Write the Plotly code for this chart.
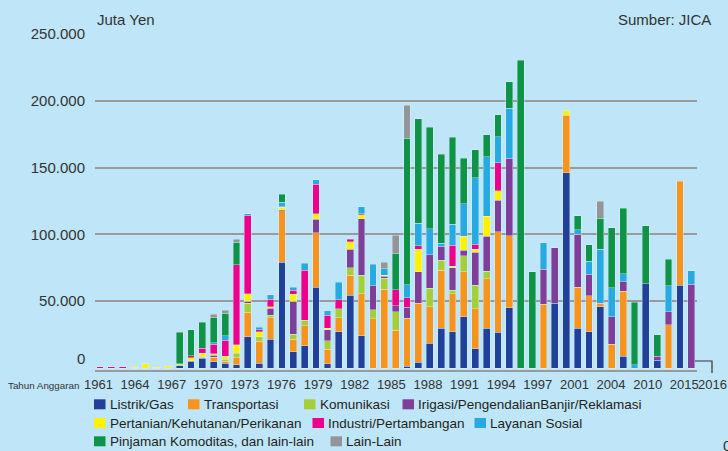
import plotly.graph_objects as go

# ---------------- data (values in Juta Yen) ----------------
years = ["1961", "1962", "1963", "1964", "1965", "1966", "1967", "1968", "1969", "1970",
         "1971", "1972", "1973", "1974", "1975", "1976", "1977", "1978", "1979", "1980",
         "1981", "1982", "1983", "1984", "1985", "1986", "1987", "1988", "1989", "1990",
         "1991", "1992", "1993", "1994", "1995", "1996", "1997", "1998", "1999", "2000",
         "2001", "2002", "2003", "2004", "2005", "2006", "2007", "2008", "2009", "2010",
         "2011", "2015", "2016"]

listrik_gas = [0, 0, 0, 0, 0, 0, 0, 1500, 5000, 7400,
               4500, 3400, 2500, 23300, 3700, 21600, 79000, 12200, 16600, 60400,
               3200, 27100, 54600, 24100, 0, 0, 0, 1200, 4200, 18600,
               29800, 27300, 38500, 14400, 29800, 26600, 45200, 0, 0, 0,
               48400, 146300, 29800, 27300, 45900, 0, 8700, 0, 63100, 5700,
               0, 62100, 0]
transportasi = [0, 0, 0, 0, 0, 0, 0, 0, 600, 700,
                3700, 1500, 5000, 18600, 16200, 15900, 38800, 9400, 14900, 40700,
                10700, 10400, 14700, 31500, 37000, 58900, 28100, 36000, 44200, 27300,
                43500, 28300, 33500, 29800, 37000, 75300, 53700, 0, 0, 47700,
                0, 43000, 30800, 26800, 2500, 17600, 48900, 0, 0, 0,
                32300, 77700, 0]
komunikasi = [0, 0, 0, 0, 0, 0, 0, 1200, 0, 700,
              0, 1800, 3000, 6700, 3500, 2000, 0, 3700, 4200, 0,
              6500, 6900, 5700, 13900, 6500, 8200, 13900, 0, 0, 13900,
              7500, 2700, 11900, 17900, 5700, 0, 0, 0, 0, 0,
              0, 0, 0, 0, 0, 0, 0, 0, 0, 0,
              0, 0, 0]
irigasi = [0, 0, 0, 0, 0, 0, 0, 400, 0, 0,
           1250, 0, 500, 1500, 0, 5400, 700, 24800, 0, 10400,
           8400, 0, 13900, 42200, 17900, 1500, 4500, 8200, 23600, 25100,
           10400, 16600, 4200, 24600, 26100, 23600, 58100, 0, 0, 26300,
           41500, 0, 39500, 16100, 0, 20900, 6900, 0, 0, 3000,
           9700, 0, 62800]
pertanian = [0, 0, 0, 700, 3000, 700, 1300, 0, 2200, 2200,
             1250, 2200, 6500, 5500, 3700, 1000, 1700, 5000, 0, 4000,
             1000, 0, 5500, 3000, 0, 1000, 0, 0, 16900, 0,
             0, 1200, 10400, 2000, 14900, 7200, 0, 0, 0, 0,
             0, 3200, 0, 0, 0, 0, 0, 0, 0, 0,
             0, 0, 0]
industri = [1000, 1000, 1000, 0, 0, 0, 0, 0, 1250, 3700,
            6900, 11900, 59600, 58600, 1700, 5400, 500, 3200, 37300, 22100,
            9700, 6500, 2000, 750, 0, 0, 11900, 7200, 2500, 0,
            0, 15600, 0, 4000, 0, 21100, 0, 0, 0, 0,
            0, 0, 0, 0, 0, 0, 0, 0, 0, 0,
            0, 0, 0]
layanan_sosial = [0, 0, 0, 0, 0, 0, 0, 0, 0, 0,
                  1250, 3400, 0, 1250, 1700, 3500, 3200, 2200, 5500, 3200,
                  3500, 13200, 0, 5200, 16400, 4700, 0, 9900, 17100, 19400,
                  2000, 15900, 24400, 49700, 44700, 19400, 37500, 0, 0, 19900,
                  0, 0, 3500, 9700, 40500, 21400, 6000, 2500, 0, 0,
                  19400, 0, 9900]
pinjaman_komoditas = [0, 0, 0, 0, 0, 0, 0, 23500, 19400, 19600,
                      18600, 16900, 16900, 0, 0, 0, 6200, 0, 0, 0,
                      0, 0, 0, 0, 0, 0, 27300, 109500, 78200, 76000,
                      66800, 65100, 34000, 21100, 16400, 16200, 19900, 230500, 72000, 0,
                      0, 0, 10400, 12200, 23100, 45200, 49200, 46700, 43500, 16100,
                      20100, 0, 0]
lain_lain = [0, 0, 0, 0, 0, 0, 0, 0, 0, 0,
             2750, 2200, 2200, 0, 0, 0, 0, 0, 0, 0,
             0, 0, 0, 0, 0, 5000, 13600, 24600, 0, 0,
             0, 0, 0, 0, 0, 0, 0, 0, 0, 0,
             0, 0, 0, 0, 12700, 0, 0, 0, 0, 0,
             0, 0, 0]

series_names = ["Listrik/Gas", "Transportasi", "Komunikasi",
                "Irigasi/PengendalianBanjir/Reklamasi", "Pertanian/Kehutanan/Perikanan",
                "Industri/Pertambangan", "Layanan Sosial",
                "Pinjaman Komoditas, dan lain-lain", "Lain-Lain"]
series_values = [listrik_gas, transportasi, komunikasi, irigasi, pertanian,
                 industri, layanan_sosial, pinjaman_komoditas, lain_lain]
series_colors = ["#21409a", "#f7941d", "#a6ce39", "#7f3f98", "#fff200",
                 "#ec008c", "#27aae1", "#0f9447", "#939598"]

x_tick_labels = ["1961", "1964", "1967", "1970", "1973", "1976", "1979", "1982", "1985",
                 "1988", "1991", "1994", "1997", "2001", "2004", "2010", "2015"]
x_end_label = "2016"
y_tick_values = [50000, 100000, 150000, 200000, 250000]
y_tick_labels = ["50.000", "100.000", "150.000", "200.000", "250.000"]

# ---------------- layout helpers ----------------
W, H = 728, 451
ML, MR, MT, MB = 95, 31, 34, 81
PW, PH = W - ML - MR, H - MT - MB


def px_x(px):
    return (px - ML) / PW


def px_y(py):
    return (H - MB - py) / PH


BG = "#bee5f8"
TXT = "#333333"
REG = "Liberation Sans, Arial, Helvetica, sans-serif"

fig = go.Figure()
xpos = list(range(len(years)))
for name, vals, color in zip(series_names, series_values, series_colors):
    fig.add_trace(go.Bar(
        x=xpos, y=[v if v else None for v in vals], name=name,
        customdata=years,
        marker=dict(color=color, line=dict(color="rgba(235,248,255,0.45)", width=0.8)),
        hovertemplate="%{customdata}<br>" + name + ": %{y:,.0f}<extra></extra>",
        showlegend=False,
    ))

step = 3.22
tickvals = [-0.14 + step * i for i in range(len(x_tick_labels))]

fig.update_layout(
    width=W, height=H,
    margin=dict(l=ML, r=MR, t=MT, b=MB, pad=0),
    paper_bgcolor=BG, plot_bgcolor=BG,
    barmode="stack", bargap=0.4,
    font=dict(family=REG, color=TXT),
    xaxis=dict(range=[-0.44, 52.5], tickmode="array", tickvals=tickvals,
               ticktext=x_tick_labels, showgrid=False, zeroline=False,
               showline=True, linecolor="#9a9a9a", linewidth=2,
               ticks="", ticklabelstandoff=1, tickangle=0,
               tickfont=dict(family=REG, size=13, color=TXT)),
    yaxis=dict(range=[-1500, 250000], tickmode="array", tickvals=y_tick_values,
               ticktext=y_tick_labels, showgrid=True, gridcolor="#9a9a9a",
               gridwidth=2, zeroline=False, showline=False, ticks="",
               ticklabelstandoff=9,
               tickfont=dict(family=REG, size=15, color=TXT)),
)

annotations = [
    dict(text="Juta Yen", x=px_x(95), y=px_y(20), xanchor="left", yanchor="middle",
         font=dict(size=15, color=TXT, family=REG)),
    dict(text="Sumber: JICA", x=px_x(713), y=px_y(20), xanchor="right", yanchor="middle",
         font=dict(size=15, color=TXT, family=REG)),
    dict(text="0", x=px_x(87), y=px_y(358), xanchor="right", yanchor="middle",
         font=dict(size=15, color=TXT, family=REG)),
    dict(text="Tahun Anggaran", x=px_x(81), y=px_y(385), xanchor="right", yanchor="middle",
         font=dict(size=9.8, color=TXT, family=REG)),
    dict(text=x_end_label, x=px_x(712.5), y=px_y(384), xanchor="center", yanchor="middle",
         font=dict(size=13, color=TXT, family=REG)),
    dict(text="0", x=px_x(721), y=px_y(445), xanchor="left", yanchor="middle",
         font=dict(size=15, color=TXT, family=REG)),
]

# manual legend: (series index, square left px, row centre px)
legend_layout = [(0, 94, 404.3), (1, 188, 404.3), (2, 304, 404.3), (3, 402.5, 404.3),
                 (4, 94, 423), (5, 312.5, 423), (6, 474.5, 423),
                 (7, 94, 441.3), (8, 330.5, 441.3)]
shapes = []
for idx, sx, cy in legend_layout:
    shapes.append(dict(type="rect", xref="paper", yref="paper",
                       x0=px_x(sx), x1=px_x(sx + 11.5), y0=px_y(cy + 5), y1=px_y(cy - 5),
                       fillcolor=series_colors[idx], line=dict(width=0)))
    annotations.append(dict(text=series_names[idx], x=px_x(sx + 13.5), y=px_y(cy),
                            xanchor="left", yanchor="middle",
                            font=dict(size=13.5, color="#231f20", family=REG)))

for a in annotations:
    a.update(xref="paper", yref="paper", showarrow=False)

# bracket at right end of axis
shapes.append(dict(type="path", xref="paper", yref="paper",
                   path=f"M {px_x(695)},{px_y(361)} L {px_x(712)},{px_y(361)} L {px_x(712)},{px_y(373)}",
                   line=dict(color="#333333", width=1.2)))

fig.update_layout(annotations=annotations, shapes=shapes)
fig.write_html("out.html", config={"displayModeBar": False},
               post_script="document.body.style.margin='0';document.body.style.overflow='hidden';")
